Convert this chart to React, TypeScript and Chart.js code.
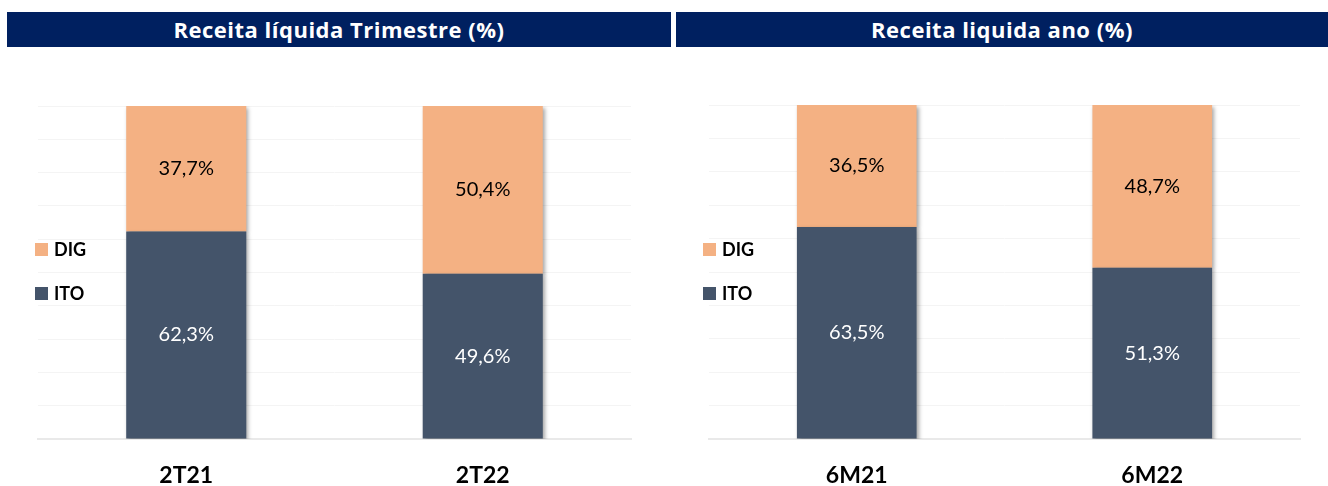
import React, { useEffect, useRef } from "react";
import { Chart, registerables } from "chart.js";

Chart.register(...registerables);

const quarterCategories = ["2T21", "2T22"];
const quarterITO = [62.3, 49.6];
const quarterDIG = [37.7, 50.4];

const yearCategories = ["6M21", "6M22"];
const yearITO = [63.5, 51.3];
const yearDIG = [36.5, 48.7];

const seriesNames = ["ITO", "DIG"];
const seriesColors = ["#44546A", "#F4B183"];
const labelColors = ["#FFFFFF", "#000000"];

const FONT = "Lato, 'Open Sans', sans-serif";
const TITLE_FONT = "'Open Sans', Lato, sans-serif";

const CANVAS_H = 467;

const fmt = (v: number) => v.toFixed(1).replace(".", ",") + "%";

const barPlugin = {
  id: "barDecor",
  beforeDatasetsDraw(chart: any) {
    const ctx = chart.ctx;
    ctx.save();
    ctx.shadowColor = "rgba(0,0,0,0.35)";
    ctx.shadowBlur = 4;
    ctx.shadowOffsetX = 2;
    ctx.shadowOffsetY = 2;
  },
  afterDatasetsDraw(chart: any) {
    const ctx = chart.ctx;
    ctx.restore();
    ctx.save();
    ctx.font = `400 20px ${FONT}`;
    ctx.textAlign = "center";
    ctx.textBaseline = "middle";
    chart.data.datasets.forEach((ds: any, i: number) => {
      const meta = chart.getDatasetMeta(i);
      meta.data.forEach((el: any, j: number) => {
        const p = el.getProps(["x", "y", "base"], true);
        ctx.fillStyle = labelColors[i];
        ctx.fillText(fmt(ds.data[j]), p.x, (p.y + p.base) / 2);
      });
    });
    ctx.restore();
  },
  afterDraw(chart: any) {
    const ctx = chart.ctx;
    const opts = chart.options.plugins.sideLegend;
    ctx.save();
    ctx.font = `700 18px ${FONT}`;
    ctx.textBaseline = "middle";
    ctx.textAlign = "left";
    const items = chart.data.datasets
      .map((d: any, i: number) => ({ label: d.label, color: d.backgroundColor, i }))
      .reverse();
    items.forEach((it: any, k: number) => {
      const cy = opts.y + k * opts.gap;
      ctx.fillStyle = it.color;
      ctx.fillRect(opts.x, cy - 7, 13, 13);
      ctx.fillStyle = "#000000";
      ctx.fillText(it.label, opts.x + 19, cy);
    });
    ctx.restore();
  },
};

function Panel(props: {
  title: string;
  categories: string[];
  ito: number[];
  dig: number[];
  left: number;
  width: number;
  titleLeft: number;
  titleWidth: number;
  padLeft: number;
  padRight: number;
  padTop: number;
  legendX: number;
}) {
  const ref = useRef<HTMLCanvasElement>(null);
  useEffect(() => {
    if (!ref.current) return;
    const chart = new Chart(ref.current, {
      type: "bar",
      data: {
        labels: props.categories,
        datasets: [
          { label: seriesNames[0], data: props.ito, backgroundColor: seriesColors[0], borderWidth: 0 },
          { label: seriesNames[1], data: props.dig, backgroundColor: seriesColors[1], borderWidth: 0 },
        ],
      },
      options: {
        animation: false,
        responsive: false,
        maintainAspectRatio: false,
        datasets: { bar: { barPercentage: 0.405, categoryPercentage: 1 } },
        layout: { padding: { left: props.padLeft, right: props.padRight, top: props.padTop, bottom: 2 } },
        plugins: {
          legend: { display: false },
          tooltip: { enabled: false },
          title: { display: false },
          sideLegend: { x: props.legendX, y: 250 - 47, gap: 44 },
        } as any,
        scales: {
          x: {
            stacked: true,
            grid: { display: false, drawTicks: false },
            border: { display: true, color: "#E9E9E9", width: 2 },
            ticks: {
              color: "#000000",
              padding: 25,
              font: { family: FONT, size: 23, weight: "bold", lineHeight: 1 },
            },
          },
          y: {
            stacked: true,
            min: 0,
            max: 100,
            ticks: { display: false, stepSize: 10 },
            grid: { color: "#F4F4F4", lineWidth: 1, drawTicks: false },
            border: { display: false },
          },
        },
      },
      plugins: [barPlugin],
    });
    return () => chart.destroy();
  }, []);
  return (
    <div style={{ position: "absolute", left: props.left, top: 0, width: props.width, height: 486, overflow: "hidden" }}>
      <div
        style={{
          position: "absolute",
          left: props.titleLeft,
          top: 12,
          width: props.titleWidth,
          height: 35,
          background: "#002060",
          color: "#FFFFFF",
          fontFamily: TITLE_FONT,
          fontWeight: 700,
          fontSize: 22,
          letterSpacing: "0.5px",
          lineHeight: "35px",
          textAlign: "center",
          whiteSpace: "nowrap",
        }}
      >
        {props.title}
      </div>
      <canvas
        ref={ref}
        width={props.width}
        height={CANVAS_H}
        style={{ position: "absolute", left: 0, top: 47, width: props.width, height: CANVAS_H }}
      />
    </div>
  );
}

export default function App() {
  return (
    <div
      style={{
        position: "absolute",
        left: 0,
        top: 0,
        width: 1328,
        height: 486,
        background: "#FFFFFF",
        overflow: "hidden",
      }}
    >
      <Panel
        title="Receita líquida Trimestre (%)"
        categories={quarterCategories}
        ito={quarterITO}
        dig={quarterDIG}
        left={0}
        width={671}
        titleLeft={7}
        titleWidth={664}
        padLeft={38}
        padRight={40}
        padTop={59}
        legendX={35}
      />
      <Panel
        title="Receita liquida ano (%)"
        categories={yearCategories}
        ito={yearITO}
        dig={yearDIG}
        left={671}
        width={657}
        titleLeft={5}
        titleWidth={652}
        padLeft={38}
        padRight={28}
        padTop={58}
        legendX={32}
      />
    </div>
  );
}
